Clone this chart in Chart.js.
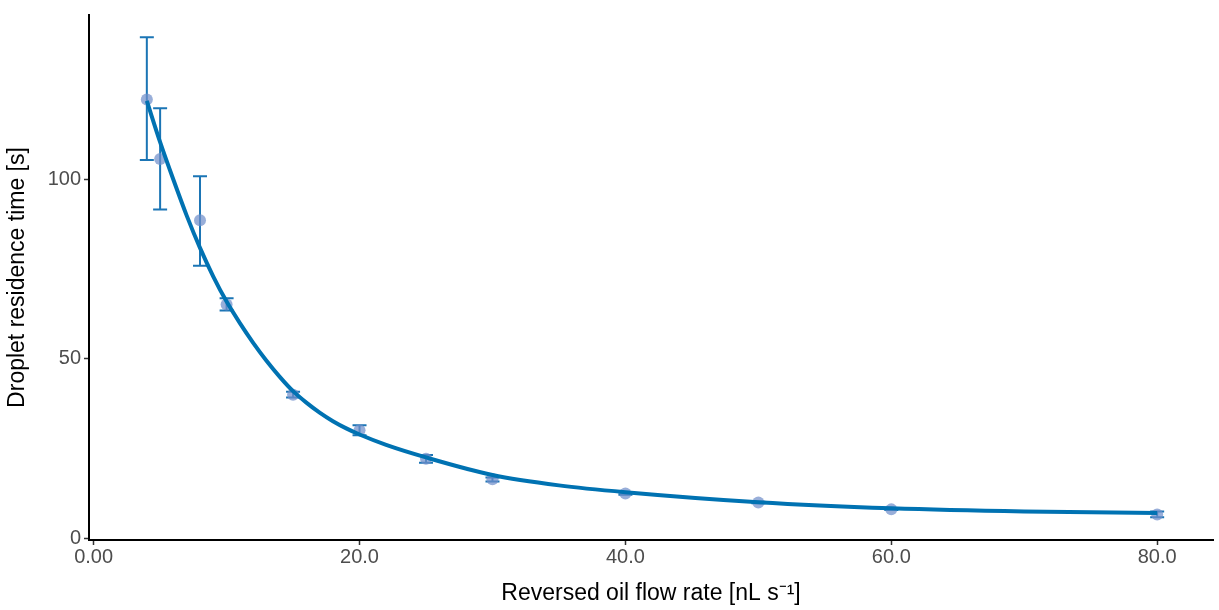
<!DOCTYPE html>
<html>
<head>
<meta charset="utf-8">
<script src="https://cdn.jsdelivr.net/npm/chart.js@4"></script>
<style>
  html, body { margin: 0; padding: 0; background: #fff; }
  #wrap { width: 1219px; height: 610px; }
</style>
</head>
<body>
<div id="wrap"><canvas id="residenceChart" width="1219" height="610"></canvas></div>
<script>
// measured flow rates and residence times (mean, low/high error)
const flowRates = [4, 5, 8, 10, 15, 20, 25, 30, 40, 50, 60, 80];
const residenceMean = [122.4, 105.8, 88.7, 65.2, 40.0, 30.1, 22.1, 16.4, 12.4, 9.9, 8.0, 6.6];
const residenceLow = [105.5, 91.7, 76.0, 63.5, 39.2, 28.7, 21.0, 15.8, 12.1, 9.7, 7.8, 5.8];
const residenceHigh = [139.8, 120.0, 101.0, 66.9, 40.8, 31.5, 23.2, 16.9, 12.7, 10.1, 8.2, 7.4];

// fitted curve
const fitX = [4, 5, 6, 7, 8, 9, 10, 11, 12, 13, 14, 15, 16, 17, 18, 19, 20, 22, 25, 30, 35, 40, 50, 60, 70, 80];
const fitY = [122, 110.5, 100, 90, 81, 73, 66, 60, 54.5, 49.5, 45, 41, 37.8, 35, 32.6, 30.6, 28.9, 26, 22.5, 17.6, 14.7, 12.8, 10, 8.3, 7.4, 7.0];

// tick labels as printed on the axes
const xTicks = [0, 20, 40, 60, 80];
const xTickLabels = ['0.00', '20.0', '40.0', '60.0', '80.0'];
const yTicks = [0, 50, 100];

const lineColor = '#0072b2';
const pointColor = 'rgba(112, 143, 203, 0.72)';
const fontFamily = 'Liberation Sans, Arial, Helvetica, sans-serif';

const errorBars = {
  id: 'errorBars',
  beforeDatasetsDraw(chart) {
    const ctx = chart.ctx;
    const xs = chart.scales.x;
    const ys = chart.scales.y;
    ctx.save();
    ctx.strokeStyle = '#1b75b5';
    ctx.lineWidth = 2;
    flowRates.forEach((fx, i) => {
      const px = xs.getPixelForValue(fx);
      const top = ys.getPixelForValue(residenceHigh[i]);
      const bot = ys.getPixelForValue(residenceLow[i]);
      ctx.beginPath();
      ctx.moveTo(px, top); ctx.lineTo(px, bot);
      ctx.moveTo(px - 7, top); ctx.lineTo(px + 7, top);
      ctx.moveTo(px - 7, bot); ctx.lineTo(px + 7, bot);
      ctx.stroke();
    });
    ctx.restore();
  }
};

const ctx = document.getElementById('residenceChart').getContext('2d');

new Chart(ctx, {
  type: 'scatter',
  data: {
    datasets: [
      {
        type: 'line',
        label: 'fit',
        data: fitX.map((x, i) => ({ x: x, y: fitY[i] })),
        borderColor: lineColor,
        borderWidth: 4,
        pointRadius: 0,
        cubicInterpolationMode: 'monotone',
        fill: false,
        order: 1
      },
      {
        label: 'measured',
        data: flowRates.map((x, i) => ({ x: x, y: residenceMean[i] })),
        backgroundColor: pointColor,
        borderWidth: 0,
        pointRadius: 6,
        order: 2
      }
    ]
  },
  options: {
    responsive: false,
    animation: false,
    layout: { padding: { top: 10, right: 4, left: 0, bottom: 0 } },
    plugins: {
      legend: { display: false },
      tooltip: { enabled: false }
    },
    scales: {
      x: {
        type: 'linear',
        min: -0.35,
        max: 84.2,
        afterBuildTicks: (scale) => { scale.ticks = xTicks.map(v => ({ value: v })); },
        afterFit: (scale) => { scale.height = 70; },
        grid: { display: true, drawOnChartArea: false, drawTicks: true, tickLength: 5, tickColor: '#333', tickWidth: 1.5 },
        border: { display: true, color: '#000', width: 2 },
        ticks: {
          color: '#4d4d4d',
          font: { family: fontFamily, size: 20 },
          padding: 0,
          maxRotation: 0,
          callback: (v) => xTickLabels[xTicks.indexOf(v)]
        },
        title: {
          display: true,
          text: 'Reversed oil flow rate [nL s\u207B\u00B9]',
          color: '#000',
          font: { family: fontFamily, size: 23 },
          padding: { top: 0, bottom: 3 }
        }
      },
      y: {
        min: -0.55,
        max: 146,
        afterBuildTicks: (scale) => { scale.ticks = yTicks.map(v => ({ value: v })); },
        afterFit: (scale) => { scale.width = 89; },
        grid: { display: true, drawOnChartArea: false, drawTicks: true, tickLength: 5, tickColor: '#333', tickWidth: 1.5 },
        border: { display: true, color: '#000', width: 2 },
        ticks: {
          color: '#4d4d4d',
          font: { family: fontFamily, size: 20 },
          padding: 3
        },
        title: {
          display: true,
          text: 'Droplet residence time [s]',
          color: '#000',
          font: { family: fontFamily, size: 23 },
          padding: { top: 4, bottom: 0 }
        }
      }
    }
  },
  plugins: [errorBars]
});
</script>
</body>
</html>
